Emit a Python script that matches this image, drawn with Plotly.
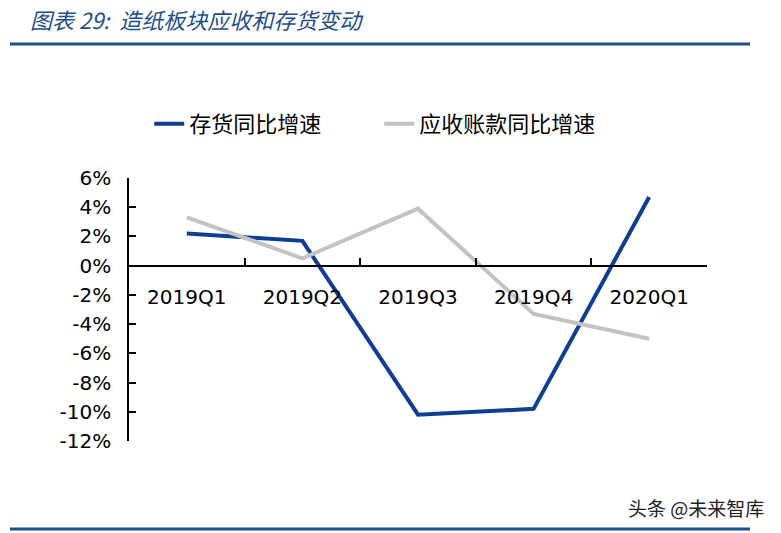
import plotly.graph_objects as go

categories = ["2019Q1", "2019Q2", "2019Q3", "2019Q4", "2020Q1"]
inventory_yoy = [2.2, 1.7, -10.2, -9.8, 4.7]
receivable_yoy = [3.3, 0.5, 3.9, -3.3, -5.0]
y_ticks = [6, 4, 2, 0, -2, -4, -6, -8, -10, -12]
y_tick_text = [f"{v}%" for v in y_ticks]

BLUE = "#0D3E93"
GRAY = "#C3C3C3"
TICK_FONT = dict(family="DejaVu Sans", size=20, color="#000000")
CJK = "Noto Sans CJK SC"

fig = go.Figure()
fig.add_trace(go.Scatter(x=categories, y=inventory_yoy, mode="lines", name="存货同比增速",
                         line=dict(color=BLUE, width=4)))
fig.add_trace(go.Scatter(x=categories, y=receivable_yoy, mode="lines", name="应收账款同比增速",
                         line=dict(color=GRAY, width=4)))

W, H = 781, 533
L, R, T, B = 129, 74, 178, 92

fig.update_layout(
    width=W, height=H,
    margin=dict(l=L, r=R, t=T, b=B),
    paper_bgcolor="white", plot_bgcolor="white",
    showlegend=True,
    legend=dict(orientation="h", x=0.035, y=1.285, xanchor="left", yanchor="top",
                font=dict(family=CJK, size=22, color="#000000"),
                entrywidth=185, bgcolor="rgba(0,0,0,0)"),
    xaxis=dict(
        type="category", range=[-0.5, 4.5],
        anchor="free", position=12/18,
        showline=True, linecolor="#000000", linewidth=1.5,
        ticks="inside", ticklen=7, tickcolor="#000000", tickwidth=1.5,
        tickson="boundaries", showgrid=False, zeroline=False,
        tickfont=TICK_FONT, ticklabelstandoff=14,
    ),
    yaxis=dict(
        range=[-12, 6], tickvals=y_ticks, ticktext=y_tick_text,
        showline=True, linecolor="#000000", linewidth=1.5,
        ticks="inside", ticklen=7, tickcolor="#000000", tickwidth=1.5,
        showgrid=False, zeroline=False, tickfont=TICK_FONT,
        ticklabelstandoff=12,
    ),
    shapes=[
        dict(type="line", xref="paper", yref="paper",
             x0=(10 - L) / (W - L - R), x1=(750 - L) / (W - L - R),
             y0=(H - B - 44) / (H - T - B), y1=(H - B - 44) / (H - T - B),
             line=dict(color="#1F4E8C", width=3)),
        dict(type="line", xref="paper", yref="paper",
             x0=(10 - L) / (W - L - R), x1=(750 - L) / (W - L - R),
             y0=(H - B - 529) / (H - T - B), y1=(H - B - 529) / (H - T - B),
             line=dict(color="#1F4E8C", width=3)),
    ],
    annotations=[
        dict(text="<i>图表 29:  造纸板块应收和存货变动</i>", xref="paper", yref="paper",
             x=(28 - L) / (W - L - R), y=(H - B - 19) / (H - T - B),
             xanchor="left", yanchor="middle", showarrow=False,
             font=dict(family=CJK, size=22, color="#1F4E8C")),
        dict(text="头条 @未来智库", xref="paper", yref="paper",
             x=(766 - L) / (W - L - R), y=(H - B - 507) / (H - T - B),
             xanchor="right", yanchor="middle", showarrow=False,
             font=dict(family=CJK, size=19, color="#222222")),
    ],
)

fig.write_html("out.html")
